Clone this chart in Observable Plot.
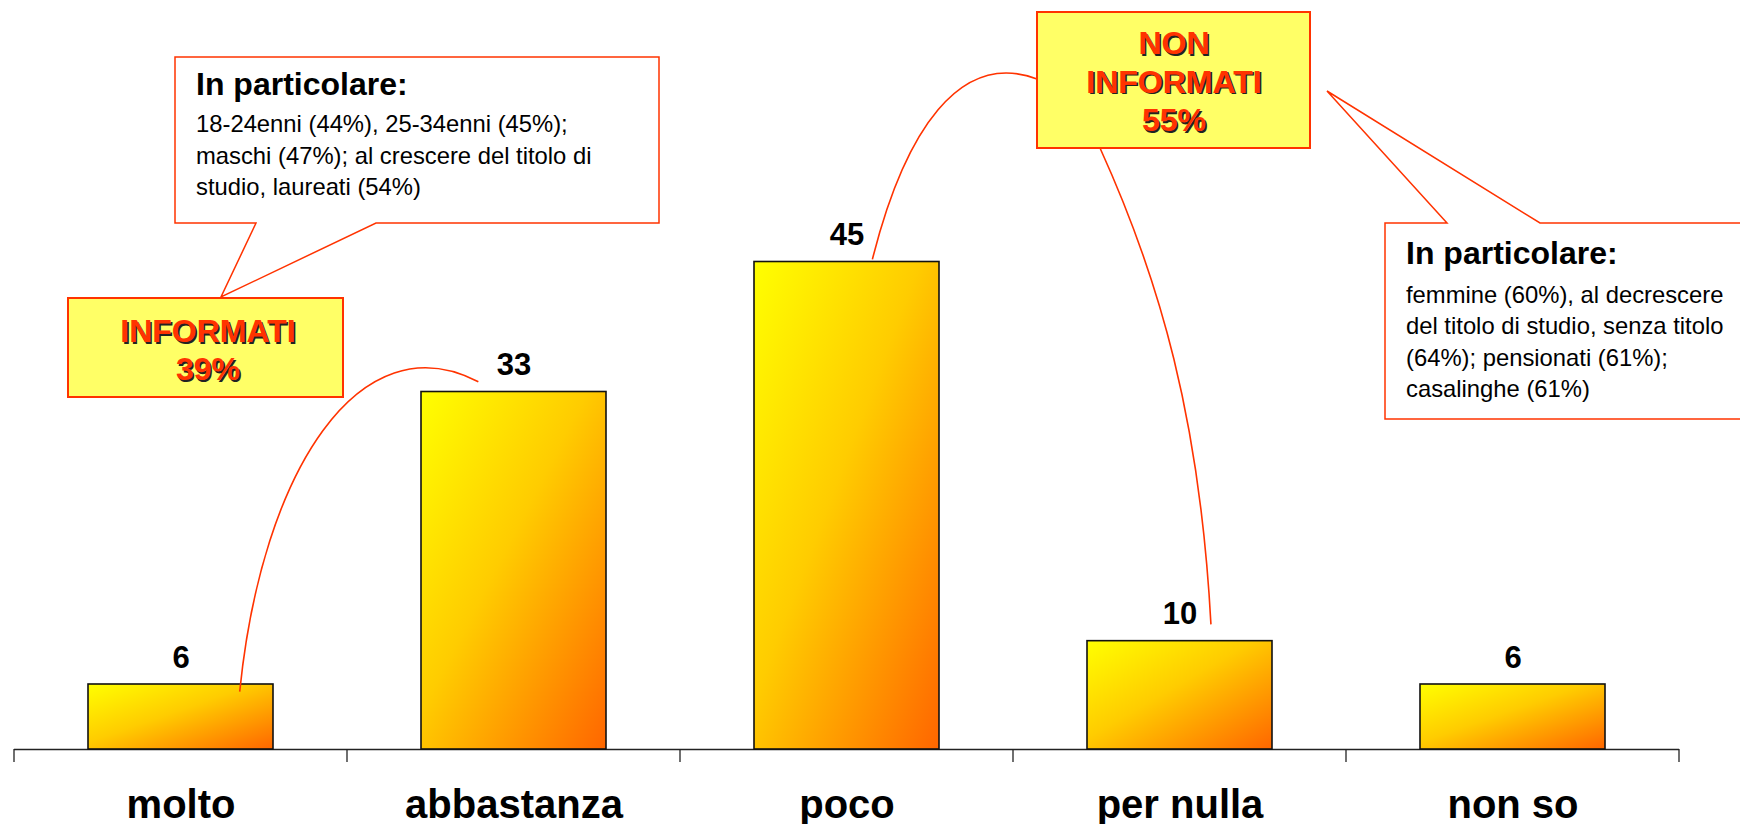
<!DOCTYPE html>
<html><head><meta charset="utf-8">
<script src="https://cdn.jsdelivr.net/npm/d3@7"></script>
<script src="https://cdn.jsdelivr.net/npm/@observablehq/plot@0.6"></script>
<style>
html,body{margin:0;padding:0;background:#fff;}
#chart{width:1740px;height:824px;overflow:hidden;}
svg{display:block;}
</style>
</head><body><div id="chart"></div>
<script>
// ---- data ----
const categories = ["molto", "abbastanza", "poco", "per nulla", "non so"];
const values = [6, 33, 45, 10, 6];
const informatiLabel = ["INFORMATI", "39%"];
const nonInformatiLabel = ["NON", "INFORMATI", "55%"];
const leftTitle = "In particolare:";
const leftLines = ["18-24enni (44%), 25-34enni (45%);", "maschi (47%); al crescere del titolo di", "studio, laureati (54%)"];
const rightTitle = "In particolare:";
const rightLines = ["femmine (60%), al decrescere", "del titolo di studio, senza titolo", "(64%); pensionati (61%);", "casalinghe (61%)"];

const data = categories.map((c, i) => ({category: c, value: values[i]}));

const FONT = "'Liberation Sans', Arial, Helvetica, sans-serif";
const RED = "#FF3300";

function num(v) { return typeof v === "function" ? v() : v; }

// gradient definitions
function defsMark() {
  const g = d3.create("svg:g");
  const grad = g.append("defs").append("linearGradient")
    .attr("id", "barGrad").attr("x1", 0).attr("y1", 0).attr("x2", 1).attr("y2", 1);
  grad.append("stop").attr("offset", "0%").attr("stop-color", "#FFFF00");
  grad.append("stop").attr("offset", "45%").attr("stop-color", "#FFCC00");
  grad.append("stop").attr("offset", "100%").attr("stop-color", "#FF6600");
  return g.node();
}

// ticks at band boundaries, derived from the x scale
function ticksMark(index, scales) {
  const xs = scales.x;
  const step = num(xs.step);
  const bw = num(xs.bandwidth);
  const y0 = scales.y(0);
  const g = d3.create("svg:g").attr("stroke", "#222").attr("stroke-width", 1.3);
  const edges = categories.map(c => xs(c) - (step - bw) / 2);
  edges.push(xs(categories[categories.length - 1]) + bw + (step - bw) / 2);
  for (const x of edges) {
    g.append("line").attr("x1", x).attr("x2", x).attr("y1", y0).attr("y2", y0 + 13);
  }
  return g.node();
}

function shadowText(g, x, y, lines, lh, size) {
  lines.forEach((t, i) => {
    g.append("text").attr("x", x + 1.6).attr("y", y + i * lh + 1.6).attr("fill", "#222")
      .attr("font-family", FONT).attr("font-weight", "bold").attr("font-size", size)
      .attr("text-anchor", "middle").text(t);
    g.append("text").attr("x", x).attr("y", y + i * lh).attr("fill", RED)
      .attr("font-family", FONT).attr("font-weight", "bold").attr("font-size", size)
      .attr("text-anchor", "middle").text(t);
  });
}

function annotationsMark(index, scales) {
  const xs = scales.x, ys = scales.y;
  const bw = num(xs.bandwidth);
  const at = (cat, f, v) => [xs(cat) + f * bw, ys(v)];
  const g = d3.create("svg:g").attr("text-anchor", "start");

  // connector curves
  const cg = g.append("g").attr("fill", "none").attr("stroke", RED).attr("stroke-width", 1.6);
  const a0 = at("molto", 0.82, 5.3), a1 = at("abbastanza", 0.31, 33.9);
  cg.append("path").attr("d", `M${a0}C262,470 360,320 ${a1}`);
  const b0 = at("poco", 0.64, 45.2);
  cg.append("path").attr("d", `M${b0}C905,130 960,50 1037,79`);
  const c1 = at("per nulla", 0.67, 11.5);
  cg.append("path").attr("d", `M1100,148C1160,280 1200,420 ${c1}`);

  // left callout
  g.append("path").attr("d", "M175,57H659V223H376L221,297L256,223H175Z")
    .attr("fill", "#fff").attr("stroke", RED).attr("stroke-width", 1.5);
  g.append("text").attr("x", 196).attr("y", 95).attr("font-family", FONT).attr("text-anchor", "start")
    .attr("font-weight", "bold").attr("font-size", 32).attr("fill", "#000").text(leftTitle);
  leftLines.forEach((t, i) => g.append("text").attr("x", 196).attr("y", 132 + i * 31.5)
    .attr("text-anchor", "start")
    .attr("font-family", FONT).attr("font-size", 23.8).attr("fill", "#000").text(t));

  // right callout
  g.append("path").attr("d", "M1385,223H1447L1327,91L1540,223H1750V419H1385Z")
    .attr("fill", "#fff").attr("stroke", RED).attr("stroke-width", 1.5);
  g.append("text").attr("x", 1406).attr("y", 264).attr("font-family", FONT).attr("text-anchor", "start")
    .attr("font-weight", "bold").attr("font-size", 32).attr("fill", "#000").text(rightTitle);
  rightLines.forEach((t, i) => g.append("text").attr("x", 1406).attr("y", 303 + i * 31.3)
    .attr("text-anchor", "start")
    .attr("font-family", FONT).attr("font-size", 23.8).attr("fill", "#000").text(t));

  // INFORMATI box
  g.append("rect").attr("x", 68).attr("y", 298).attr("width", 275).attr("height", 99)
    .attr("fill", "#FFFF66").attr("stroke", RED).attr("stroke-width", 2);
  shadowText(g, 208, 342, informatiLabel, 38, 32);

  // NON INFORMATI box
  g.append("rect").attr("x", 1037).attr("y", 12).attr("width", 273).attr("height", 136)
    .attr("fill", "#FFFF66").attr("stroke", RED).attr("stroke-width", 2);
  shadowText(g, 1174, 54, nonInformatiLabel, 38.5, 32);

  return g.node();
}

const chart = Plot.plot({
  width: 1740,
  height: 824,
  marginLeft: 14,
  marginRight: 61,
  marginTop: 99,
  marginBottom: 75,
  style: {background: "#fff", fontFamily: FONT},
  x: {type: "band", domain: categories, paddingInner: 0.443, paddingOuter: 0.2215, axis: null},
  y: {domain: [0, 60], axis: null},
  marks: [
    defsMark,
    Plot.ruleY([0], {stroke: "#222", strokeWidth: 1.3}),
    ticksMark,
    Plot.barY(data, {x: "category", y: "value", fill: "url(#barGrad)", stroke: "#111", strokeWidth: 1.6}),
    Plot.text(data, {x: "category", y: "value", text: d => String(d.value), dy: -17,
      lineAnchor: "bottom", fontSize: 31, fontWeight: "bold", fill: "#000", fontFamily: FONT}),
    Plot.text(categories, {x: d => d, frameAnchor: "bottom", dy: 68, lineAnchor: "bottom",
      text: d => d, fontSize: 40, fontWeight: "bold", fill: "#000", fontFamily: FONT}),
    annotationsMark
  ]
});
document.getElementById("chart").appendChild(chart);
</script>
</body></html>
